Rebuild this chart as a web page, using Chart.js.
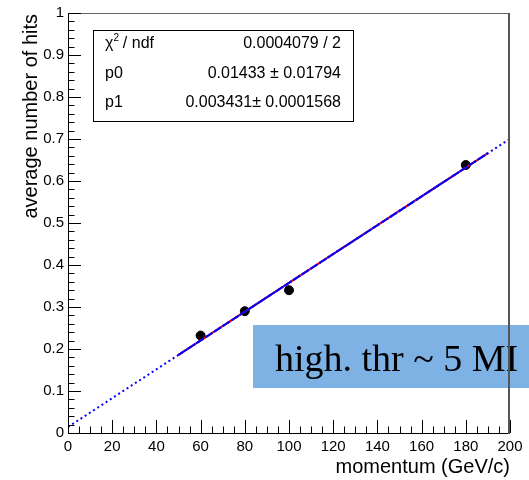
<!DOCTYPE html>
<html>
<head>
<meta charset="utf-8">
<script src="https://cdn.jsdelivr.net/npm/chart.js@4/dist/chart.umd.min.js"></script>
<style>
  body { margin: 0; background: #fff; }
  canvas { display: block; }
</style>
</head>
<body>
<canvas id="hits-chart" width="529" height="480"></canvas>
<script>
// measured points
const momentum = [60, 80, 100, 180];
const avgHits  = [0.232, 0.290, 0.340, 0.638];

// linear fit result
const fitP0     = 0.01433;
const fitP1     = 0.003431;
const fitRange  = [50, 190];
const drawRange = [0, 200];

const xTickLabels = ["0", "20", "40", "60", "80", "100", "120", "140", "160", "180", "200"];
const yTickLabels = ["0", "0.1", "0.2", "0.3", "0.4", "0.5", "0.6", "0.7", "0.8", "0.9", "1"];

const statsRows = [
  ["chi2", "0.0004079 / 2"],
  ["p0",   "0.01433 \u00b1 0.01794"],
  ["p1",   "0.003431\u00b1 0.0001568"],
];
const noteText = "high. thr ~ 5 MI";

const SANS = '"Liberation Sans", Arial, sans-serif';

function fitLine(range) {
  return range.map(x => ({ x: x, y: fitP0 + fitP1 * x }));
}

// ---------- frame, inward ticks, stats box, titles ----------
const rootFrame = {
  id: "rootFrame",
  afterDatasetsDraw(chart) {
    const ctx = chart.ctx;
    const xs  = chart.scales.x;
    const ys  = chart.scales.y;
    const L = Math.round(xs.left), R = Math.round(xs.right);
    const T = Math.round(ys.top),  B = Math.round(ys.bottom);
    ctx.save();
    ctx.setLineDash([]);

    // label box
    ctx.fillStyle = "#7eb1e4";
    ctx.fillRect(253, 325, 276, 63);
    ctx.fillStyle = "#000";
    ctx.font = '38px "Liberation Serif", "Times New Roman", serif';
    ctx.textAlign = "left";
    ctx.textBaseline = "alphabetic";
    ctx.fillText(noteText, 275, 371);

    // frame
    ctx.strokeStyle = "#000";
    ctx.lineWidth = 1;
    ctx.beginPath();
    ctx.moveTo(L + 0.5, T);
    ctx.lineTo(L + 0.5, B + 0.5);
    ctx.lineTo(R, B + 0.5);
    ctx.stroke();
    ctx.strokeStyle = "#666";
    ctx.beginPath();
    ctx.moveTo(L, T + 0.5);
    ctx.lineTo(R, T + 0.5);
    ctx.stroke();
    ctx.lineWidth = 2;
    ctx.strokeStyle = "#555";
    ctx.beginPath();
    ctx.moveTo(R - 1, T);
    ctx.lineTo(R - 1, B + 1);
    ctx.stroke();

    // ticks pointing into the frame
    ctx.strokeStyle = "#000";
    ctx.lineWidth = 1;
    ctx.beginPath();
    for (let v = 0; v <= 200; v += 5) {
      const px = Math.round(xs.getPixelForValue(v)) + 0.5;
      const len = v % 20 === 0 ? 13 : 6.5;
      ctx.moveTo(px, B);
      ctx.lineTo(px, B - len);
    }
    for (let i = 0; i <= 50; i++) {
      const py = Math.round(ys.getPixelForValue(i * 0.02)) + 0.5;
      const len = i % 5 === 0 ? 13 : 6.5;
      ctx.moveTo(L, py);
      ctx.lineTo(L + len, py);
    }
    ctx.stroke();

    // fit statistics box
    ctx.fillStyle = "#fff";
    ctx.fillRect(93, 30, 260, 91);
    ctx.strokeStyle = "#000";
    ctx.strokeRect(93.5, 30.5, 260, 91);
    ctx.fillStyle = "#000";
    ctx.font = "16px " + SANS;
    ctx.textBaseline = "middle";
    statsRows.forEach((row, i) => {
      const cy = 44 + i * 29.5;
      ctx.textAlign = "left";
      if (row[0] === "chi2") {
        ctx.fillText("\u03c7", 105, cy);
        const w = ctx.measureText("\u03c7").width;
        ctx.font = "10px " + SANS;
        ctx.fillText("2", 105 + w, cy - 6);
        ctx.font = "16px " + SANS;
        ctx.fillText(" / ndf", 105 + w + 5, cy);
      } else {
        ctx.fillText(row[0], 105, cy);
      }
      ctx.textAlign = "right";
      ctx.fillText(row[1], 341, cy);
    });

    // axis titles
    ctx.font = "20px " + SANS;
    ctx.textAlign = "right";
    ctx.textBaseline = "middle";
    ctx.fillText("momentum (GeV/c)", R, 467);
    ctx.translate(31, T + 1);
    ctx.rotate(-Math.PI / 2);
    ctx.fillText("average number of hits", 0, 0);

    ctx.restore();
  }
};

new Chart(document.getElementById("hits-chart"), {
  type: "scatter",
  data: {
    datasets: [
      {
        label: "fit (full range)",
        data: fitLine(drawRange),
        showLine: true,
        borderColor: "#0000ff",
        borderWidth: 2,
        borderDash: [2, 3],
        pointRadius: 0,
        order: 1,
      },
      {
        label: "fit (blue)",
        data: fitLine(fitRange),
        showLine: true,
        borderColor: "#0000ff",
        borderWidth: 2,
        borderDash: [9, 1.5],
        pointRadius: 0,
        order: 2,
      },
      {
        label: "fit",
        data: fitLine(fitRange),
        showLine: true,
        borderColor: "#ff0000",
        borderWidth: 2,
        pointRadius: 0,
        order: 3,
      },
      {
        label: "data",
        data: momentum.map((m, i) => ({ x: m, y: avgHits[i] })),
        backgroundColor: "#000",
        borderColor: "#000",
        pointRadius: 4.5,
        pointHoverRadius: 4.5,
        order: 4,
      },
    ]
  },
  options: {
    responsive: false,
    animation: false,
    events: [],
    layout: { padding: { top: 9, right: 19, left: 0, bottom: 0 } },
    plugins: { legend: { display: false }, tooltip: { enabled: false } },
    scales: {
      x: {
        type: "linear",
        min: 0, max: 200,
        grid: { display: false, drawTicks: false },
        border: { display: false },
        ticks: {
          stepSize: 20,
          maxRotation: 0,
          padding: 5,
          color: "#000",
          font: { family: SANS, size: 15 },
          callback: (v, i) => xTickLabels[i],
        },
        afterFit: s => { s.height = 47; },
      },
      y: {
        min: 0, max: 1,
        grid: { display: false, drawTicks: false },
        border: { display: false },
        ticks: {
          stepSize: 0.1,
          padding: 4,
          color: "#000",
          font: { family: SANS, size: 15 },
          callback: (v, i) => yTickLabels[i],
        },
        afterFit: s => { s.width = 68; },
      },
    }
  },
  plugins: [rootFrame]
});
</script>
</body>
</html>
